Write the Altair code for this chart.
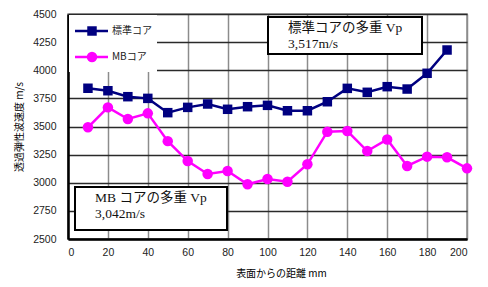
import altair as alt
import pandas as pd

distance = [10, 20, 30, 40, 50, 60, 70, 80, 90, 100, 110, 120, 130, 140, 150, 160, 170, 180, 190, 200]
standard = [3840, 3818, 3765, 3750, 3623, 3670, 3700, 3653, 3676, 3688, 3640, 3640, 3720, 3839, 3804, 3854, 3833, 3973, 4180, None]
mb = [3493, 3670, 3567, 3617, 3370, 3193, 3078, 3104, 2986, 3033, 3009, 3164, 3454, 3460, 3282, 3385, 3149, 3232, 3226, 3128]

series_names = ["標準コア", "MBコア"]
series_colors = ["#000080", "#FF00FF"]
box_texts = [["標準コアの多重 Vp", "3,517m/s"], ["MB コアの多重 Vp", "3,042m/s"]]

x_ticks = list(range(0, 201, 20))
y_ticks = list(range(2500, 4501, 250))

rows = []
for i, d in enumerate(distance):
    if standard[i] is not None:
        rows.append({"d": d, "v": standard[i], "s": series_names[0]})
    rows.append({"d": d, "v": mb[i], "s": series_names[1]})
df = pd.DataFrame(rows)

W, H = 399, 225
JP = "Noto Sans CJK JP, Liberation Sans, sans-serif"
SERIF = "Liberation Serif, Noto Sans CJK JP, serif"

xs = alt.X("d:Q", scale=alt.Scale(domain=[0, 200], nice=False),
           axis=alt.Axis(values=x_ticks, format="d", labelOverlap=False, title="表面からの距離 mm",
                         grid=True, gridColor="#8c8c8c",
                         gridWidth=1.5, ticks=False, domainColor="#000", domainWidth=2.5,
                         labelFontSize=10.5, labelColor="#222", labelPadding=8, labelFont="Liberation Sans",
                         titleFont=JP, titleFontSize=10, titleFontWeight="normal",
                         titleBaseline="bottom", titleY=39, titleX=213))
ys = alt.Y("v:Q", scale=alt.Scale(domain=[2500, 4500], nice=False, zero=False),
           axis=alt.Axis(values=y_ticks, format="d", labelOverlap=False, title="透過弾性波速度 m/s",
                         grid=True, gridColor="#2a2a2a",
                         gridWidth=1.5, ticks=False, domainColor="#000", domainWidth=2.5,
                         labelFontSize=10.5, labelColor="#222", labelPadding=12, labelFont="Liberation Sans",
                         titleFont=JP, titleFontSize=10, titleFontWeight="normal", titlePadding=8))
color = alt.Color("s:N", scale=alt.Scale(domain=series_names, range=series_colors), legend=None)

base = alt.Chart(df)
lines = base.mark_line(strokeWidth=2.5).encode(x=xs, y=ys, color=color, detail="s:N")
std_pts = base.transform_filter(alt.datum.s == series_names[0]).mark_point(
    shape="square", filled=True, size=90, opacity=1).encode(x=xs, y=ys, color=color)
mb_pts = base.transform_filter(alt.datum.s == series_names[1]).mark_point(
    shape="circle", filled=True, size=110, opacity=1).encode(x=xs, y=ys, color=color)

one = alt.Data(values=[{"a": 1}])

# legend
leg_bg = alt.Chart(one).mark_rect(fill="white").encode(
    x=alt.value(1), x2=alt.value(89), y=alt.value(1), y2=alt.value(58))
leg_items = []
for i, (name, col) in enumerate(zip(series_names, series_colors)):
    yy = 17 + i * 26
    leg_items.append(alt.Chart(one).mark_rule(color=col, strokeWidth=2.5).encode(
        x=alt.value(7), x2=alt.value(40), y=alt.value(yy)))
    leg_items.append(alt.Chart(one).mark_point(
        shape="square" if i == 0 else "circle", filled=True, opacity=1, color=col,
        size=90 if i == 0 else 110).encode(x=alt.value(24), y=alt.value(yy)))
    leg_items.append(alt.Chart(one).mark_text(
        text=name, align="left", baseline="middle", font=JP, fontSize=10, color="#222").encode(
        x=alt.value(44), y=alt.value(yy)))

# annotation boxes
boxes = []
box_geo = [(200, 354, 3, 40, 220), (7, 159, 173, 216, 27)]
for (x1, x2, y1, y2, tx), lines_txt in zip(box_geo, box_texts):
    boxes.append(alt.Chart(one).mark_rect(fill="white", stroke="black", strokeWidth=2).encode(
        x=alt.value(x1), x2=alt.value(x2), y=alt.value(y1), y2=alt.value(y2)))
    for j, t in enumerate(lines_txt):
        boxes.append(alt.Chart(one).mark_text(
            text=t, align="left", baseline="middle", font=SERIF, fontSize=13.5, color="#111").encode(
            x=alt.value(tx), y=alt.value(y1 + 11 + j * 16)))

chart = alt.layer(lines, std_pts, mb_pts, leg_bg, *leg_items, *boxes).properties(
    width=W, height=H,
    autosize=alt.AutoSizeParams(type="none"),
    padding={"left": 60, "top": 6, "right": 13, "bottom": 40},
    background="white",
).configure_view(stroke="#8c8c8c", strokeWidth=1.5)

chart.save("out.html", embed_options={"renderer": "svg", "actions": False})
